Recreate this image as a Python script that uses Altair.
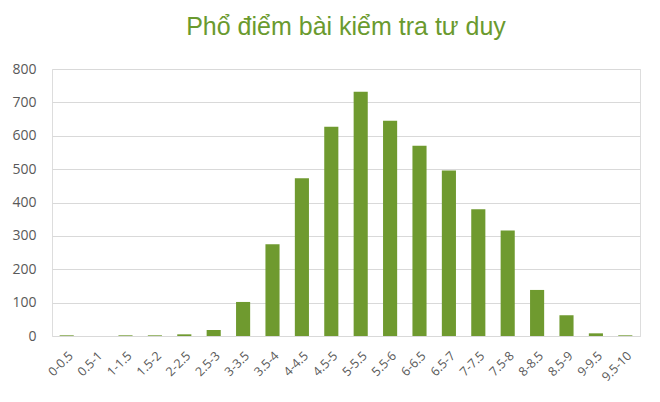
import altair as alt
import pandas as pd

categories = ["0-0.5", "0.5-1", "1-1.5", "1.5-2", "2-2.5", "2.5-3", "3-3.5", "3.5-4",
              "4-4.5", "4.5-5", "5-5.5", "5.5-6", "6-6.5", "6.5-7", "7-7.5", "7.5-8",
              "8-8.5", "8.5-9", "9-9.5", "9.5-10"]
counts = [2, 0, 2, 2, 5, 18, 102, 275, 473, 627, 732, 645, 570, 496, 380, 316, 138, 62, 8, 2]
y_ticks = [0, 100, 200, 300, 400, 500, 600, 700, 800]

df = pd.DataFrame({"range": categories, "count": counts})

chart = alt.Chart(df).mark_bar(color="#6f9a2f").encode(
    x=alt.X("range:N", sort=categories, title=None,
            scale=alt.Scale(paddingInner=0.52, paddingOuter=0.26),
            axis=alt.Axis(labelAngle=-45, labelAlign="right", labelBaseline="top",
                          labelColor="#595959", labelFont="Open Sans", labelFontSize=12.5,
                          domain=False, ticks=False, labelPadding=13, grid=False)),
    y=alt.Y("count:Q", title=None,
            scale=alt.Scale(domain=[0, 800], nice=False),
            axis=alt.Axis(values=y_ticks, labelColor="#595959", labelFont="Open Sans",
                          labelFontSize=14, domain=False, ticks=False, labelPadding=16,
                          gridColor="#d9d9d9", gridWidth=1)),
).properties(
    width=588, height=267,
    title=alt.TitleParams("Phổ điểm bài kiểm tra tư duy", font="Liberation Sans",
                          fontSize=25, fontWeight="normal", color="#6a9a2e",
                          anchor="middle", offset=22),
    autosize=alt.AutoSizeParams(type="none"),
    padding={"left": 44, "top": 61, "right": 12, "bottom": 58},
).configure_view(stroke=None).configure(background="white")

chart.save("out.html", embed_options={"renderer": "svg", "actions": False})
